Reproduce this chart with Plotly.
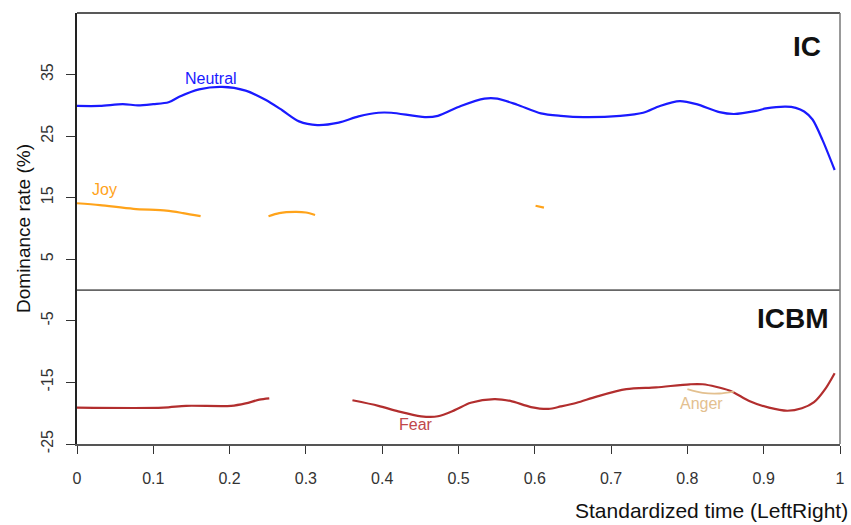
import plotly.graph_objects as go

# ---- data ----
neutral_t = [0.0, 0.03, 0.06, 0.08, 0.10, 0.12, 0.134, 0.16, 0.19, 0.221, 0.247, 0.269, 0.291, 0.315,
             0.343, 0.369, 0.395, 0.412, 0.456, 0.473, 0.503, 0.534, 0.551, 0.577, 0.608, 0.634,
             0.664, 0.712, 0.742, 0.764, 0.790, 0.812, 0.842, 0.861, 0.890, 0.903, 0.929, 0.942,
             0.953, 0.964, 0.977, 0.993]
neutral_v = [29.9, 29.9, 30.2, 30.0, 30.2, 30.5, 31.4, 32.6, 33.0, 32.4, 30.9, 29.2, 27.4, 26.8,
             27.2, 28.2, 28.8, 28.8, 28.1, 28.3, 29.9, 31.1, 31.1, 30.1, 28.7, 28.3,
             28.1, 28.3, 28.8, 29.9, 30.7, 30.2, 28.9, 28.6, 29.1, 29.5, 29.8, 29.6,
             29.0, 27.7, 24.4, 19.5]

joy1_t = [0.0, 0.03, 0.074, 0.117, 0.139, 0.162]
joy1_v = [14.1, 13.8, 13.2, 12.9, 12.5, 12.0]
joy2_t = [0.251, 0.265, 0.286, 0.30, 0.312]
joy2_v = [12.0, 12.5, 12.7, 12.6, 12.2]
joy3_t = [0.601, 0.612]
joy3_v = [13.7, 13.4]

fear1_t = [0.0, 0.113, 0.143, 0.202, 0.221, 0.239, 0.252]
fear1_v = [-19.1, -19.1, -18.8, -18.8, -18.4, -17.8, -17.6]
fear2_t = [0.361, 0.395, 0.421, 0.451, 0.473, 0.495, 0.516, 0.547, 0.568, 0.595, 0.618, 0.634,
           0.655, 0.681, 0.720, 0.759, 0.803, 0.820, 0.855, 0.881, 0.907, 0.931, 0.950, 0.966,
           0.981, 0.993]
fear2_v = [-17.9, -18.8, -19.7, -20.5, -20.5, -19.5, -18.3, -17.7, -18.0, -19.0, -19.3, -18.9,
           -18.3, -17.3, -16.1, -15.8, -15.3, -15.3, -16.3, -18.0, -19.1, -19.6, -19.2, -18.2,
           -16.0, -13.5]

anger_t = [0.800, 0.820, 0.842, 0.861]
anger_v = [-16.1, -16.7, -16.8, -16.5]

x_ticks = [0, 0.1, 0.2, 0.3, 0.4, 0.5, 0.6, 0.7, 0.8, 0.9, 1]
x_tick_labels = ["0", "0.1", "0.2", "0.3", "0.4", "0.5", "0.6", "0.7", "0.8", "0.9", "1"]
y_ticks = [-25, -15, -5, 5, 15, 25, 35]

C_NEUTRAL = "#1a1aff"
C_JOY = "#ffa31a"
C_FEAR = "#b22e2e"
C_ANGER = "#e3c08f"

fig = go.Figure()

def add_line(t, v, color, width=2.2):
    fig.add_trace(go.Scatter(x=t, y=v, mode="lines",
                             line=dict(color=color, width=width, shape="spline", smoothing=0.8),
                             showlegend=False, hoverinfo="skip"))

add_line(neutral_t, neutral_v, C_NEUTRAL)
add_line(joy1_t, joy1_v, C_JOY)
add_line(joy2_t, joy2_v, C_JOY)
add_line(joy3_t, joy3_v, C_JOY)
add_line(fear1_t, fear1_v, C_FEAR)
add_line(fear2_t, fear2_v, C_FEAR)
add_line(anger_t, anger_v, C_ANGER, width=1.8)

font = "Liberation Sans, Arial, sans-serif"

# divider at 0 and box
fig.add_shape(type="line", xref="x", yref="y", x0=0, x1=1, y0=0, y1=0,
              line=dict(color="#666666", width=1.8))
fig.add_shape(type="line", xref="paper", yref="paper", x0=0, x1=1, y0=1, y1=1,
              line=dict(color="#222222", width=1.5))
fig.add_shape(type="line", xref="paper", yref="paper", x0=1, x1=1, y0=0, y1=1,
              line=dict(color="#777777", width=1.5))

fig.update_xaxes(range=[0, 1], tickvals=x_ticks, ticktext=x_tick_labels,
                 ticks="outside", ticklen=8, tickwidth=1.2, tickcolor="#333333",
                 showline=True, linecolor="#555555", linewidth=1.5,
                 showgrid=False, zeroline=False, ticklabelstandoff=11,
                 tickfont=dict(family=font, size=16, color="#333333"))
fig.update_yaxes(range=[-25, 45], tickvals=y_ticks, ticktext=[str(v) for v in y_ticks],
                 ticks="outside", ticklen=9, tickwidth=1.2, tickcolor="#333333",
                 showline=True, linecolor="#222222", linewidth=1.5,
                 showgrid=False, zeroline=False, tickangle=-90, ticklabelstandoff=7,
                 tickfont=dict(family=font, size=16, color="#333333"),
                 title=dict(text="Dominance rate (%)", font=dict(family=font, size=19, color="#111111"),
                            standoff=3))

ann = [
    dict(x=0.176, y=34.4, text="Neutral", font=dict(color=C_NEUTRAL, size=16)),
    dict(x=0.036, y=16.4, text="Joy", font=dict(color=C_JOY, size=16)),
    dict(x=0.444, y=-21.8, text="Fear", font=dict(color="#c0474a", size=16)),
    dict(x=0.818, y=-18.4, text="Anger", font=dict(color=C_ANGER, size=16)),
]
for a in ann:
    a["font"]["family"] = font
    fig.add_annotation(xref="x", yref="y", showarrow=False, **a)

fig.add_annotation(xref="x", yref="y", x=0.978, y=39.6, text="<b>IC</b>", showarrow=False,
                   xanchor="right", font=dict(family=font, size=28, color="#111111"))
fig.add_annotation(xref="x", yref="y", x=0.988, y=-4.6, text="<b>ICBM</b>", showarrow=False,
                   xanchor="right", font=dict(family=font, size=28, color="#111111"))
fig.add_annotation(xref="paper", yref="paper", x=1.013, y=-0.155, text="Standardized time (LeftRight)",
                   showarrow=False, xanchor="right", yanchor="middle",
                   font=dict(family=font, size=21, color="#111111"))

fig.update_layout(width=851, height=525, margin=dict(l=77, r=6, t=13, b=81),
                  plot_bgcolor="white", paper_bgcolor="white")

fig.write_html("out.html")
